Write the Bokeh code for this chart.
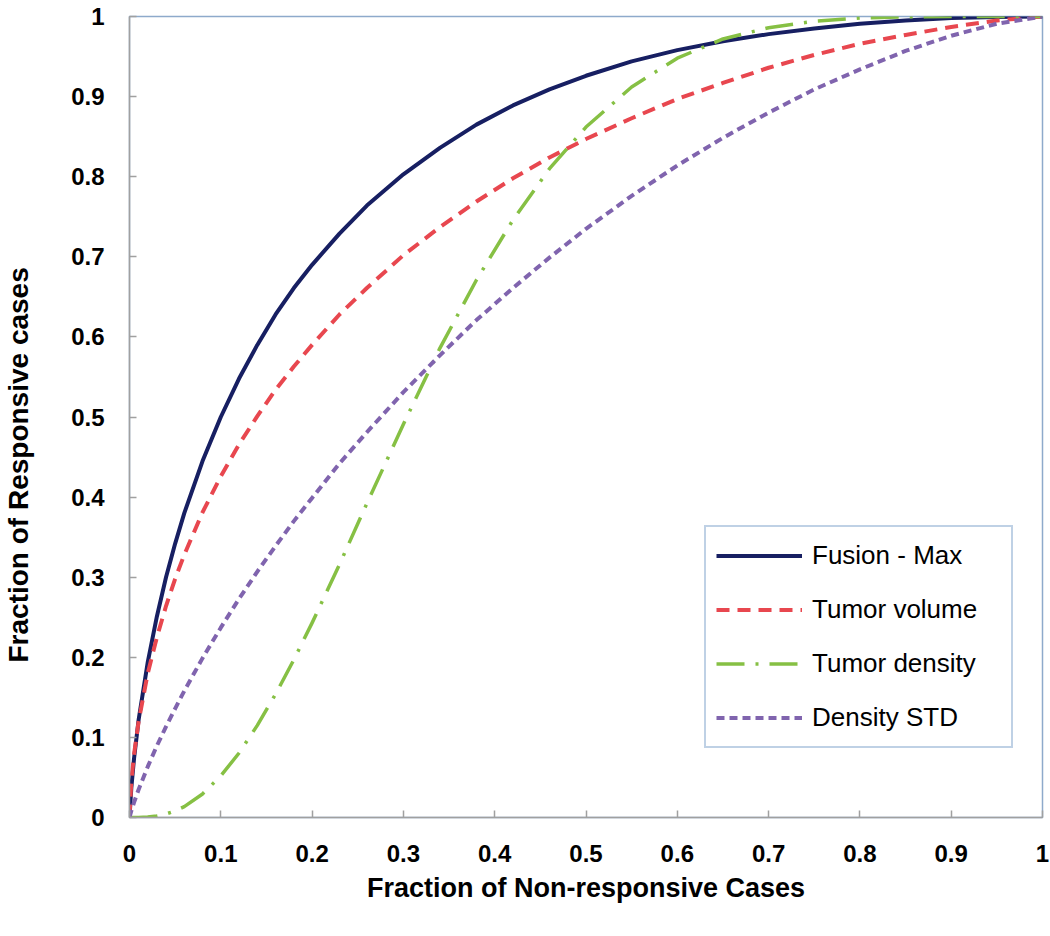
from bokeh.plotting import figure
from bokeh.models import Range1d, FixedTicker, Legend, LegendItem, Title, LinearAxis
from bokeh.embed import file_html
from bokeh.resources import INLINE

# ---- data ----
fpr = [0, 0.002, 0.005, 0.01, 0.02, 0.03, 0.04, 0.05, 0.06, 0.08, 0.1, 0.12, 0.14, 0.16, 0.18, 0.2,
       0.23, 0.26, 0.3, 0.34, 0.38, 0.42, 0.46, 0.5, 0.55, 0.6, 0.65, 0.7, 0.75, 0.8, 0.85, 0.9, 0.95, 1.0]

fusion_y = [0, 0.037, 0.074, 0.122, 0.194, 0.251, 0.300, 0.342, 0.380, 0.445, 0.500, 0.548, 0.590, 0.628, 0.661, 0.690,
            0.729, 0.764, 0.803, 0.836, 0.865, 0.889, 0.909, 0.926, 0.944, 0.958, 0.969, 0.978, 0.985, 0.991, 0.995, 0.998, 0.9995, 1.0]

volume_y = [0, 0.045, 0.079, 0.120, 0.180, 0.225, 0.264, 0.298, 0.328, 0.381, 0.426, 0.466, 0.501, 0.534, 0.563, 0.590,
            0.628, 0.661, 0.702, 0.737, 0.769, 0.798, 0.824, 0.847, 0.873, 0.897, 0.917, 0.936, 0.952, 0.966, 0.977, 0.987, 0.995, 1.0]

density_y = [0, 0.0, 0.0, 0.0, 0.0005, 0.002, 0.0044, 0.0082, 0.0136, 0.0294, 0.052, 0.0805, 0.115, 0.154, 0.197, 0.243,
             0.316, 0.392, 0.491, 0.586, 0.671, 0.746, 0.810, 0.862, 0.912, 0.948, 0.972, 0.986, 0.994, 0.998, 0.9995, 1.0, 1.0, 1.0]

std_y = [0, 0.0084, 0.019, 0.035, 0.0635, 0.0895, 0.1135, 0.136, 0.158, 0.199, 0.237, 0.273, 0.307, 0.339, 0.370, 0.399,
         0.442, 0.481, 0.531, 0.577, 0.621, 0.661, 0.699, 0.735, 0.776, 0.814, 0.8485, 0.880, 0.909, 0.934, 0.957, 0.976, 0.991, 1.0]

series_names = ["Fusion - Max", "Tumor volume", "Tumor density", "Density STD"]

tick_values = [0, 0.1, 0.2, 0.3, 0.4, 0.5, 0.6, 0.7, 0.8, 0.9, 1]
tick_labels = ["0", "0.1", "0.2", "0.3", "0.4", "0.5", "0.6", "0.7", "0.8", "0.9", "1"]

x_title = "Fraction of Non-responsive Cases"
y_title = "Fraction of Responsive cases"

# ---- figure ----
p = figure(width=1050, height=936, x_range=Range1d(0, 1), y_range=Range1d(0, 1),
           output_backend="svg", toolbar_location=None,
           min_border_left=129, min_border_right=8, min_border_top=16, min_border_bottom=119)
p.background_fill_color = "white"
p.border_fill_color = "white"
p.outline_line_color = "#8EAACB"
p.outline_line_width = 1.5
p.xgrid.visible = False
p.ygrid.visible = False

overrides = {v: l for v, l in zip(tick_values, tick_labels)}
for ax in (p.xaxis[0], p.yaxis[0]):
    ax.ticker = FixedTicker(ticks=tick_values)
    ax.major_label_overrides = overrides
    ax.axis_line_color = "#A0A0A0"
    ax.axis_line_width = 1.5
    ax.major_tick_line_color = "#A0A0A0"
    ax.major_tick_line_width = 1.5
    ax.major_tick_in = 7
    ax.major_tick_out = 0
    ax.minor_tick_line_color = None
    ax.major_label_text_font = "Liberation Sans"
    ax.major_label_text_font_style = "bold"
    ax.major_label_text_font_size = "24px"
    ax.major_label_text_color = "black"

p.yaxis[0].major_label_standoff = 25
p.xaxis[0].major_label_standoff = 27
p.xaxis[0].axis_label = x_title
p.xaxis[0].axis_label_text_font = "Liberation Sans"
p.xaxis[0].axis_label_text_font_style = "bold"
p.xaxis[0].axis_label_text_font_size = "27px"
p.xaxis[0].axis_label_text_color = "black"
p.xaxis[0].axis_label_standoff = 8

# empty spacer panel between the y tick labels and the y title (one hidden tick, no label)
spacer = LinearAxis(ticker=FixedTicker(ticks=[0.5]), axis_line_color=None,
                    major_tick_line_color=None, minor_tick_line_color=None,
                    major_tick_in=0, major_tick_out=35, major_label_standoff=0,
                    major_label_overrides={0.5: ""})
p.add_layout(spacer, "left")

# y-axis title as a side title so it can sit lower than the frame centre (as in the reference)
ytitle = Title(text=y_title, align="left", offset=155, standoff=0,
               text_font="Liberation Sans", text_font_style="bold",
               text_font_size="28px", text_color="black")
p.add_layout(ytitle, "left")

r1 = p.line(fpr, fusion_y, line_color="#171F62", line_width=4, line_join="round")
r2 = p.line(fpr, volume_y, line_color="#E8474F", line_width=4, line_dash="13 8", line_join="round")
r3 = p.line(fpr, density_y, line_color="#86C044", line_width=3.5, line_dash="28 11 3 11", line_join="round")
r4 = p.line(fpr, std_y, line_color="#8064AE", line_width=4, line_dash="8 5", line_join="round")

legend = Legend(items=[LegendItem(label=n, renderers=[r]) for n, r in zip(series_names, [r1, r2, r3, r4])],
                location=(575, 69), orientation="vertical",
                border_line_color="#7FA3CC", border_line_width=2,
                background_fill_color="white", background_fill_alpha=1.0,
                padding=10, spacing=17, margin=0,
                glyph_height=37, glyph_width=86, label_height=37,
                label_standoff=10, label_width=189,
                label_text_font="Liberation Sans", label_text_font_size="26px",
                label_text_color="black")
p.add_layout(legend)

open("out.html", "w").write(file_html(p, INLINE))
